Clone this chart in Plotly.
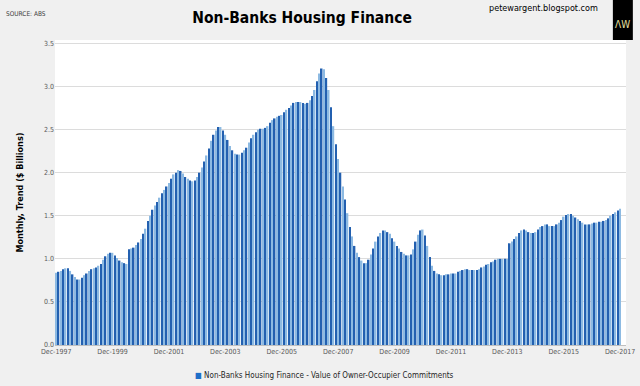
import plotly.graph_objects as go

# Monthly values, Dec-1997 .. Dec-2017 ($ billions)
values = [
    0.84, 0.85, 0.86, 0.88, 0.89, 0.89, 0.86, 0.82, 0.79, 0.76, 0.76, 0.78,
    0.81, 0.83, 0.86, 0.88, 0.89, 0.90, 0.92, 0.94, 0.99, 1.03, 1.06, 1.07,
    1.07, 1.04, 1.01, 0.98, 0.96, 0.95, 0.94, 1.11, 1.12, 1.13, 1.16, 1.19,
    1.23, 1.29, 1.35, 1.44, 1.50, 1.57, 1.62, 1.66, 1.71, 1.76, 1.80, 1.84,
    1.88, 1.93, 1.98, 2.00, 2.03, 2.02, 1.99, 1.95, 1.93, 1.91, 1.90, 1.91,
    1.95, 2.00, 2.06, 2.13, 2.20, 2.28, 2.37, 2.44, 2.49, 2.53, 2.53, 2.49,
    2.44, 2.38, 2.31, 2.26, 2.22, 2.21, 2.21, 2.23, 2.26, 2.29, 2.35, 2.40,
    2.44, 2.47, 2.50, 2.51, 2.51, 2.52, 2.54, 2.58, 2.61, 2.63, 2.65, 2.66,
    2.67, 2.70, 2.73, 2.75, 2.78, 2.81, 2.82, 2.82, 2.82, 2.81, 2.80, 2.81,
    2.84, 2.89, 2.96, 3.06, 3.15, 3.21, 3.20, 3.10, 2.96, 2.76, 2.54, 2.33,
    2.16, 2.00, 1.84, 1.69, 1.53, 1.37, 1.26, 1.15, 1.07, 1.02, 0.98, 0.95,
    0.95, 0.99, 1.05, 1.12, 1.20, 1.26, 1.30, 1.33, 1.33, 1.31, 1.29, 1.24,
    1.20, 1.15, 1.12, 1.08, 1.06, 1.04, 1.04, 1.05, 1.11, 1.20, 1.28, 1.33,
    1.34, 1.27, 1.15, 1.02, 0.92, 0.86, 0.83, 0.82, 0.81, 0.81, 0.82, 0.82,
    0.83, 0.83, 0.83, 0.85, 0.86, 0.87, 0.88, 0.88, 0.87, 0.87, 0.87, 0.87,
    0.88, 0.90, 0.91, 0.93, 0.94, 0.96, 0.97, 0.99, 1.00, 1.00, 1.00, 1.00,
    1.00, 1.18, 1.20, 1.23, 1.26, 1.30, 1.33, 1.34, 1.33, 1.31, 1.30, 1.30,
    1.31, 1.34, 1.37, 1.38, 1.40, 1.40, 1.38, 1.38, 1.38, 1.40, 1.42, 1.45,
    1.49, 1.51, 1.52, 1.52, 1.50, 1.48, 1.46, 1.44, 1.42, 1.40, 1.40, 1.40,
    1.41, 1.42, 1.42, 1.43, 1.43, 1.44, 1.45, 1.47, 1.50, 1.52, 1.54, 1.56,
    1.58,
]
months = list(range(len(values)))
tick_positions = list(range(0, 241, 24))
tick_labels = ["Dec-1997", "Dec-1999", "Dec-2001", "Dec-2003", "Dec-2005",
               "Dec-2007", "Dec-2009", "Dec-2011", "Dec-2013", "Dec-2015", "Dec-2017"]
y_ticks = [0, 0.5, 1.0, 1.5, 2.0, 2.5, 3.0, 3.5]
series_name = "Non-Banks Housing Finance - Value of Owner-Occupier Commitments"

NARROW = "DejaVu Sans Condensed, Liberation Sans Narrow, Liberation Sans, Arial"

bar_colors = ["#8dbae2" if i % 2 == 0 else "#2360b0" for i in months]

fig = go.Figure()
fig.add_trace(go.Bar(
    x=months, y=values, name=series_name, showlegend=False,
    marker=dict(color=bar_colors, line=dict(width=0)),
    hoverinfo="y",
))

fig.update_layout(
    width=640, height=386,
    paper_bgcolor="#f0f0f0", plot_bgcolor="#ffffff",
    margin=dict(l=55, r=14, t=40, b=41, autoexpand=False),
    bargap=0.35,
    font=dict(family=NARROW, size=8, color="#595959"),
    xaxis=dict(
        range=[-0.5, 242.5], tickmode="array", tickvals=tick_positions,
        ticktext=tick_labels, showgrid=False, showline=True,
        linecolor="#bfbfbf", linewidth=1, ticks="", zeroline=False,
        automargin=False,
        tickfont=dict(size=7, color="#595959", family=NARROW),
    ),
    yaxis=dict(
        range=[0, 3.54], tickmode="array", tickvals=y_ticks,
        ticktext=[f"{v:.1f}" for v in y_ticks], automargin=False,
        showgrid=True, gridcolor="#dcdcdc", gridwidth=1, zeroline=False,
        ticks="", tickfont=dict(size=7, color="#595959", family=NARROW),
    ),
    title=dict(text="<b>Non-Banks Housing Finance</b>", x=0.472, xanchor="center",
               y=0.955, yanchor="middle",
               font=dict(size=15.5, color="#000000", family=NARROW)),
)

# legend (drawn as text: coloured square + series name)
fig.add_annotation(
    text=f'<span style="color:#1f6fc8">■</span> {series_name}',
    xref="paper", yref="paper", x=0.241, y=-0.1, xanchor="left", yanchor="middle",
    showarrow=False, font=dict(size=8, color="#262626", family=NARROW))

fig.add_annotation(text="<b>Monthly, Trend ($ Billions)</b>", xref="paper", yref="paper",
                   x=-0.063, y=0.5, xanchor="center", yanchor="middle", textangle=-90,
                   showarrow=False, font=dict(size=9, color="#000000", family=NARROW))
fig.add_annotation(text="SOURCE: ABS", xref="paper", yref="paper",
                   x=-0.09, y=1.085, xanchor="left", yanchor="middle",
                   showarrow=False, font=dict(size=6.5, color="#404040", family=NARROW))
fig.add_annotation(text="petewargent.blogspot.com", xref="paper", yref="paper",
                   x=0.954, y=1.105, xanchor="right", yanchor="middle",
                   showarrow=False, font=dict(size=9, color="#000000", family=NARROW))
# logo box
fig.add_shape(type="rect", xref="paper", yref="paper",
              x0=0.977, x1=1.012, y0=1.0, y1=1.135,
              fillcolor="#000000", line=dict(width=0))
fig.add_annotation(text="ΛW", xref="paper", yref="paper",
                   x=0.9945, y=1.05, xanchor="center", yanchor="middle",
                   showarrow=False, font=dict(size=10, color="#e8e0a0", family=NARROW))

fig.write_html("out.html", config={"displayModeBar": False},
               post_script="document.body.style.margin='0';"
                           "document.body.style.background='#f0f0f0';")
